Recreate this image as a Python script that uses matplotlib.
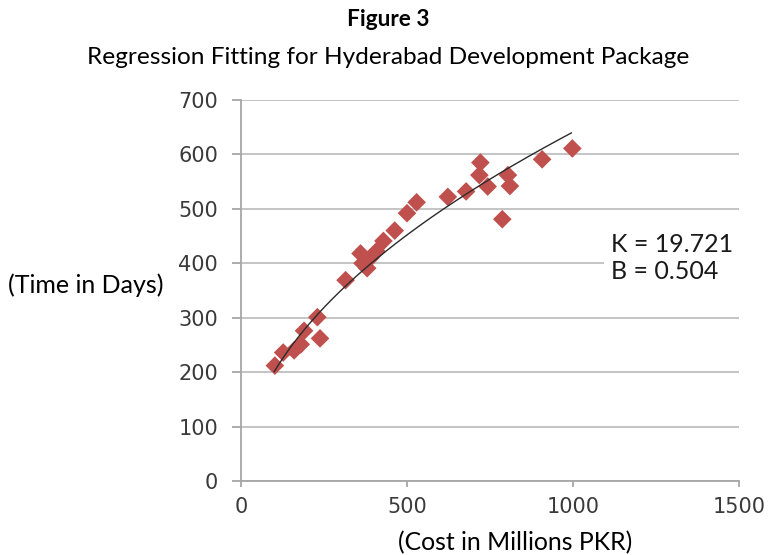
import numpy as np
import matplotlib
matplotlib.use("Agg")
import matplotlib.pyplot as plt

# ---- data ----
cost = [102, 127, 160, 180, 190, 230, 238, 315, 360, 366, 380, 390, 408, 429,
        463, 500, 529, 623, 678, 718, 721, 743, 787, 804, 810, 907, 998]
time_days = [212, 236, 240, 251, 276, 301, 262, 369, 418, 400, 391, 410, 422, 441,
             460, 492, 512, 522, 532, 562, 585, 541, 481, 562, 542, 591, 611]
K = 19.721
B = 0.504
fit_range = [100, 995]
x_ticks = [0, 500, 1000, 1500]
y_ticks = [0, 100, 200, 300, 400, 500, 600, 700]

W, H = 769, 555
fig = plt.figure(figsize=(W / 100, H / 100), dpi=100)
ax = fig.add_axes([241 / W, 1 - 481 / H, (739 - 241) / W, (481 - 100) / H])

ax.set_xlim(0, 1500)
ax.set_ylim(0, 700)
ax.set_xticks(x_ticks)
ax.set_yticks(y_ticks)
ax.yaxis.grid(True, color="#bfbfbf", linewidth=1.3)
ax.set_axisbelow(True)
for s in ["top", "right"]:
    ax.spines[s].set_visible(False)
for s in ["left", "bottom"]:
    ax.spines[s].set_color("#a6a6a6")
    ax.spines[s].set_linewidth(1.3)
ax.tick_params(axis="both", direction="out", color="#a6a6a6", width=1.3,
               labelcolor="#3a3a3a", labelsize=15)
ax.tick_params(axis="y", length=6.5, pad=10)
ax.tick_params(axis="x", length=4.3, pad=7)
for lab in ax.get_xticklabels() + ax.get_yticklabels():
    lab.set_family("DejaVu Sans")

ax.scatter(cost, time_days, marker="D", s=9.5 ** 2, color="#c0504d",
           edgecolors="none", zorder=3, clip_on=False)

xf = np.linspace(fit_range[0], fit_range[1], 200)
ax.plot(xf, K * xf ** B, color="#2b2b2b", linewidth=1.0, zorder=4)

fig.text(611 / W, 1 - 258 / H, f"K = {K}\nB = {B}", family="Lato", fontsize=18,
         color="#1a1a1a", ha="left", va="center", linespacing=1.2,
         bbox=dict(facecolor="white", edgecolor="none", pad=5))

fig.text(388 / W, 1 - 19 / H, "Figure 3", family="Lato", fontweight="bold",
         fontsize=16.3, ha="center", va="center", color="black")
fig.text(388 / W, 1 - 57 / H, "Regression Fitting for Hyderabad Development Package",
         family="Lato", fontsize=17.6, ha="center", va="center", color="black")
fig.text(8 / W, 1 - 285 / H, "(Time in Days)", family="Lato", fontsize=18,
         ha="left", va="center", color="black")
fig.text(515 / W, 1 - 543 / H, "(Cost in Millions PKR)", family="Lato", fontsize=17.8,
         ha="center", va="center", color="black")

fig.savefig("out.png", dpi=100, facecolor="white")
